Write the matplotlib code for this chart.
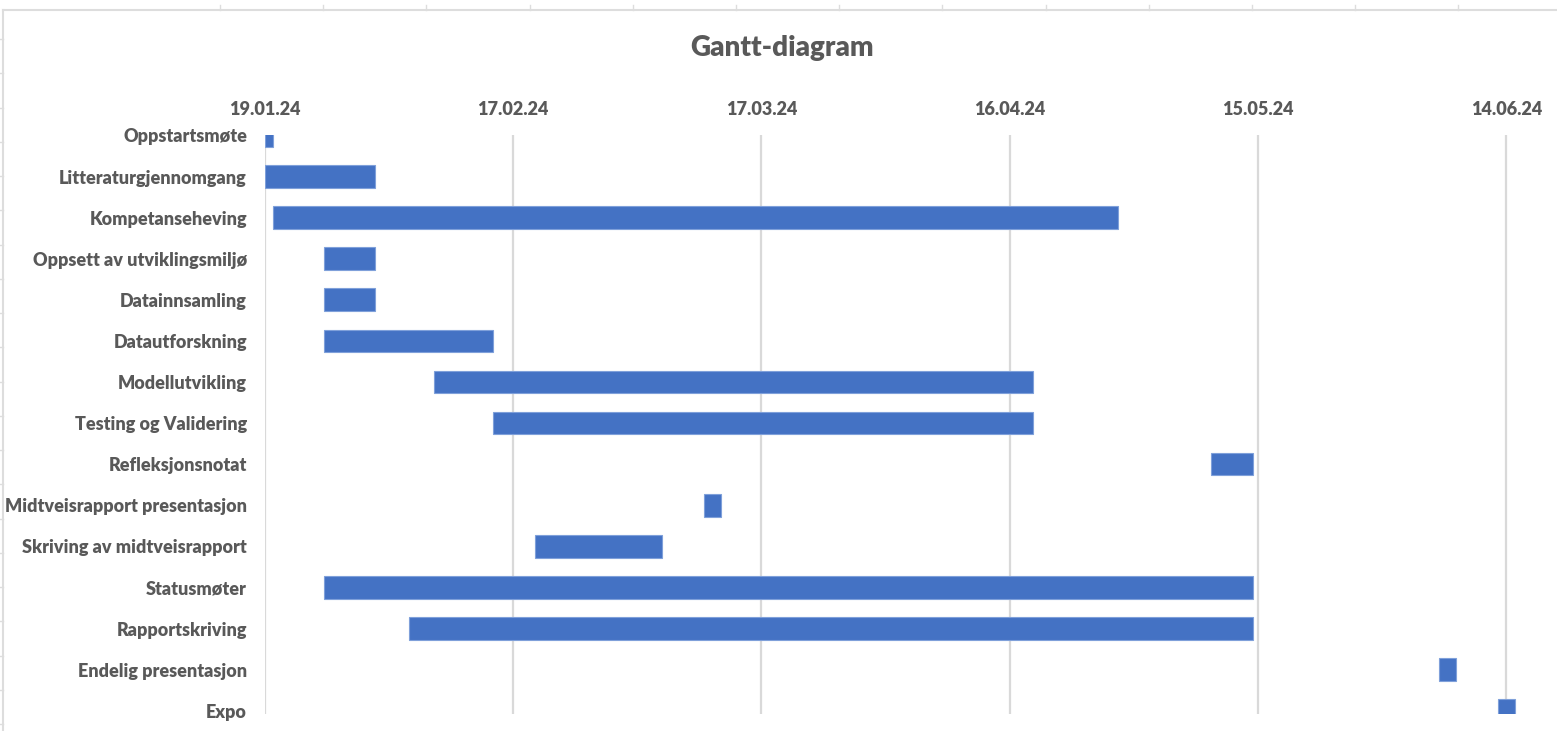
import matplotlib
matplotlib.use("Agg")
import matplotlib.pyplot as plt
import matplotlib.dates as mdates
from matplotlib.lines import Line2D
import numpy as np
import pandas as pd

# ---- data ----
tasks = ["Oppstartsmøte", "Litteraturgjennomgang", "Kompetanseheving",
         "Oppsett av utviklingsmiljø", "Datainnsamling", "Datautforskning",
         "Modellutvikling", "Testing og Validering", "Refleksjonsnotat",
         "Midtveisrapport presentasjon", "Skriving av midtveisrapport",
         "Statusmøter", "Rapportskriving", "Endelig presentasjon", "Expo"]
start_dates = ["2024-01-19", "2024-01-19", "2024-01-20", "2024-01-26", "2024-01-26",
               "2024-01-26", "2024-02-08", "2024-02-15", "2024-05-10", "2024-03-11",
               "2024-02-20", "2024-01-26", "2024-02-05", "2024-06-06", "2024-06-13"]
durations = [1, 13, 100, 6, 6, 20, 71, 64, 5, 2, 15, 110, 100, 2, 2]
axis_start = "2024-01-19"
axis_end = "2024-06-18"
major_unit_days = 29.4

title = "Gantt-diagram"

# ---- style ----
FONT = ["Lato", "DejaVu Sans"]
TXT = "#595959"
BAR = "#4472C4"
GRID = "#D9D9D9"

fig = plt.figure(figsize=(15.57, 7.31), dpi=100)
W, H = 1557, 731

ax = fig.add_axes([265 / W, 17 / H, (1540 - 265) / W, (714 - 135) / H])

starts = mdates.date2num(pd.to_datetime(start_dates))
x0 = mdates.date2num(pd.Timestamp(axis_start))
x1 = mdates.date2num(pd.Timestamp(axis_end))
ypos = np.arange(len(tasks))

ax.barh(ypos, durations, left=starts, height=0.55, color=BAR,
        edgecolor="#7FA0DA", linewidth=0.8, zorder=3)

ticks = x0 + major_unit_days * np.arange(0, 6)
ax.set_xticks(ticks)
ax.xaxis.set_major_formatter(mdates.DateFormatter("%d.%m.%y"))
ax.set_xlim(x0, x1)
ax.set_ylim(14.08, -0.01)
ax.set_yticks(ypos)
ax.set_yticklabels(tasks)

ax.xaxis.tick_top()
ax.grid(axis="x", color=GRID, linewidth=1.6, zorder=0)
ax.tick_params(axis="x", length=0, pad=12, labelsize=13, colors=TXT)
ax.tick_params(axis="y", length=0, pad=13, labelsize=13, colors=TXT)
for lab in ax.get_xticklabels() + ax.get_yticklabels():
    lab.set_family(FONT)
    lab.set_fontweight("heavy")
for s in ax.spines.values():
    s.set_visible(False)

fig.text(782 / W, 1 - 48 / H, title, ha="center", va="center",
         fontsize=20, fontweight="heavy", color=TXT, family=FONT)

# spreadsheet / chart frame behind the chart
fig.add_artist(Line2D([3 / W, 1], [1 - 10 / H] * 2, color="#DDDDDD", lw=1.5,
                      transform=fig.transFigure))
fig.add_artist(Line2D([3 / W] * 2, [0, 1 - 10 / H], color="#DDDDDD", lw=1.5,
                      transform=fig.transFigure))
for k in range(14):
    xc = 220 + 103.2 * k
    fig.add_artist(Line2D([xc / W] * 2, [1 - 5 / H, 1 - 10 / H], color="#DDDDDD",
                          lw=1.0, transform=fig.transFigure))
for k in range(21):
    yr = 39 + 34.25 * k
    if yr > H:
        break
    fig.add_artist(Line2D([0, 3 / W], [1 - yr / H] * 2, color="#DDDDDD",
                          lw=1.0, transform=fig.transFigure))

fig.savefig("out.png", dpi=100, facecolor="white")
